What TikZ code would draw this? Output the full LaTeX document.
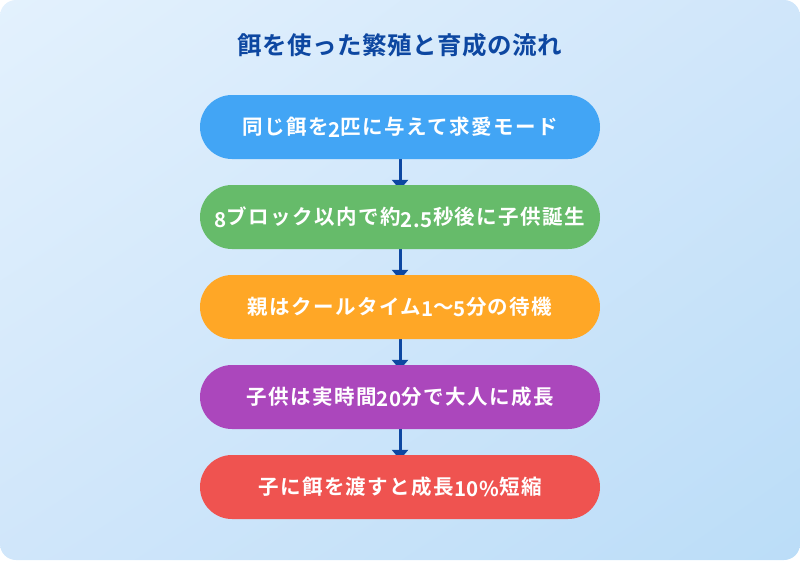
\documentclass[tikz,border=0pt]{standalone}
\usepackage{fontspec}
\setmainfont{Noto Sans CJK JP}[BoldFont={Noto Sans CJK JP Bold}]
\usetikzlibrary{arrows.meta,shadings}
\definecolor{bgA}{HTML}{E3F1FD}
\definecolor{bgM}{HTML}{D0E6FA}
\definecolor{bgB}{HTML}{BBDDF8}
\definecolor{titleblue}{HTML}{0D47A1}
\definecolor{arrowblue}{HTML}{0D47A1}
\definecolor{cblue}{HTML}{42A5F5}
\definecolor{cgreen}{HTML}{66BB6A}
\definecolor{corange}{HTML}{FFA726}
\definecolor{cpurple}{HTML}{AB47BC}
\definecolor{cred}{HTML}{EF5350}
\newcommand\dg[1]{\raisebox{-2.5pt}{\fontsize{20.5}{24}\selectfont\addfontfeatures{LetterSpace=3}#1}}
\pgfdeclarelayer{bglayer}
\pgfdeclarelayer{arrlayer}
\pgfsetlayers{bglayer,arrlayer,main}
\tikzset{
  stepbox/.style={rounded corners=32pt, minimum width=400pt, minimum height=64pt,
    text=white, font=\bfseries\fontsize{20.5}{24}\selectfont\addfontfeatures{LetterSpace=7}, inner sep=0pt},
  flowarrow/.style={draw=arrowblue, line width=3pt,
    -{Triangle[width=16pt,length=10pt]}, shorten >=-5pt},
}
\begin{document}
\begin{tikzpicture}[x=1pt,y=-1pt]
\useasboundingbox (0,0) rectangle (800,560);
\begin{pgfonlayer}{bglayer}
\shade[rounded corners=16pt, upper left=bgA, upper right=bgM, lower left=bgM, lower right=bgB]
  (0,0) rectangle (800,560);
\end{pgfonlayer}
\node[font=\bfseries\fontsize{24.5}{28}\selectfont\addfontfeatures{LetterSpace=2}, text=titleblue] (title) at (400,45) {餌を使った繁殖と育成の流れ};
\node[stepbox, fill=cblue] (b1) at (400,127) {同じ餌を\dg{2}匹に与えて求愛モード};
\node[stepbox, fill=cgreen] (b2) at (400,217) {\dg{8}ブロック以内で約\dg{2.5}秒後に子供誕生};
\node[stepbox, fill=corange] (b3) at (400,307) {親はクールタイム\dg{1}～\dg{5}分の待機};
\node[stepbox, fill=cpurple] (b4) at (400,397) {子供は実時間\dg{20}分で大人に成長};
\node[stepbox, fill=cred] (b5) at (400,487) {子に餌を渡すと成長\dg{10\%}短縮};
\begin{pgfonlayer}{arrlayer}
\draw[flowarrow] (b1.south) -- (b2.north);
\draw[flowarrow] (b2.south) -- (b3.north);
\draw[flowarrow] (b3.south) -- (b4.north);
\draw[flowarrow] (b4.south) -- (b5.north);
\end{pgfonlayer}
\end{tikzpicture}
\end{document}
